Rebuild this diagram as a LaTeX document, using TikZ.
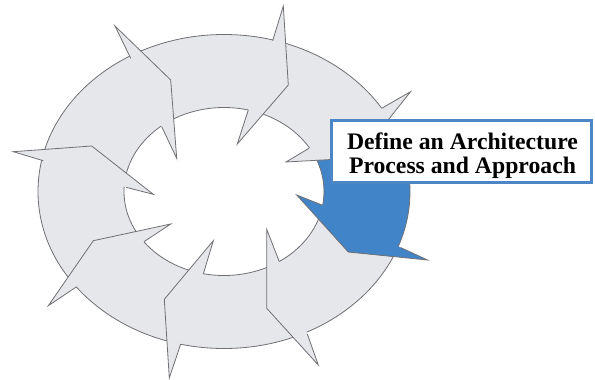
\documentclass[tikz,border=0pt]{standalone}
\usepackage{fontspec}
\setmainfont{Liberation Serif}
\definecolor{ringgray}{RGB}{229,231,234}
\definecolor{edgegray}{RGB}{112,112,116}
\definecolor{segblue}{RGB}{66,132,200}
\definecolor{boxblue}{RGB}{76,134,198}
\begin{document}
\begin{tikzpicture}[x=1pt,y=-1pt,
  edge/.style={draw=edgegray,line width=0.8pt,line join=miter},
  outerell/.style={x radius=186pt,y radius=157pt},
  innerell/.style={x radius=100pt,y radius=84pt}]
\useasboundingbox (0,0) rectangle (595,380);
\coordinate (C) at (224,191.5);
% heads: outer base, outer barb, tip, inner barb, inner base
\coordinate (Aoo) at (130.7,58.3);  \coordinate (Abo) at (115,26);     \coordinate (Atp) at (170.7,80);   \coordinate (Abi) at (176.7,158.3); \coordinate (Aii) at (161.7,126.7);
\coordinate (Boo) at (272.7,40.7);  \coordinate (Bbo) at (283.3,6);    \coordinate (Btp) at (288.3,85);   \coordinate (Bbi) at (237.3,144);   \coordinate (Bii) at (248.3,110);
\coordinate (Coo) at (381.7,108.3); \coordinate (Cbo) at (410.5,91.7); \coordinate (Ctp) at (358,158);    \coordinate (Cbi) at (286,162);     \coordinate (Cii) at (309,148.3);
\coordinate (Doo) at (400.5,247.5); \coordinate (Dbo) at (427.5,260);  \coordinate (Dtp) at (348.3,252);  \coordinate (Dbi) at (296.7,195);   \coordinate (Dii) at (322,205);
\coordinate (Eoo) at (307.3,334);   \coordinate (Ebo) at (318.3,365);  \coordinate (Etp) at (266.7,308.3);\coordinate (Ebi) at (266.7,229.3); \coordinate (Eii) at (279.3,261.7);
\coordinate (Foo) at (180.7,344);   \coordinate (Fbo) at (169.3,378);  \coordinate (Ftp) at (164.3,299.3);\coordinate (Fbi) at (213.3,240.7); \coordinate (Fii) at (203.3,274);
\coordinate (Goo) at (76.7,286.7);  \coordinate (Gbo) at (48.3,305.7); \coordinate (Gtp) at (93.3,240.7); \coordinate (Gbi) at (170.7,224);   \coordinate (Gii) at (144,241.7);
\coordinate (Hoo) at (43.3,160.7);  \coordinate (Hbo) at (13.3,151.7); \coordinate (Htp) at (91.7,146);   \coordinate (Hbi) at (153.3,194.3); \coordinate (Hii) at (126,187.3);
% ring
\fill[ringgray,even odd rule] (C) ellipse[outerell] (C) ellipse[innerell];
% blue segment
\begin{scope}
  \clip (Ctp) -- (Cbo) -- (470,40) -- (560,300) -- (Dbo) -- (Dtp) -- (Dbi) -- (C) -- (Cbi) -- cycle;
  \fill[segblue,even odd rule] (C) ellipse[outerell] (C) ellipse[innerell];
\end{scope}
\draw[edge] (C) ellipse[outerell];
\draw[edge] (C) ellipse[innerell];
% arrow heads
\foreach \h/\col in {A/ringgray,B/ringgray,C/ringgray,D/segblue,E/ringgray,F/ringgray,G/ringgray,H/ringgray}{
  \fill[\col] (\h oo) -- (\h bo) -- (\h tp) -- (\h bi) -- (\h ii) -- cycle;
  \draw[edge] (\h oo) -- (\h bo) -- (\h tp) -- (\h bi) -- (\h ii);
}
% label box
\node[draw=boxblue,line width=2.6pt,fill=white,minimum width=260.5pt,minimum height=62.5pt,inner sep=0pt] (box) at (461.5,151.5) {};
\node[align=center,inner sep=0pt,font=\bfseries\fontsize{23.7}{24.4}\selectfont] (label) at (462.5,155.5) {Define an Architecture\\Process and Approach};
\end{tikzpicture}
\end{document}
